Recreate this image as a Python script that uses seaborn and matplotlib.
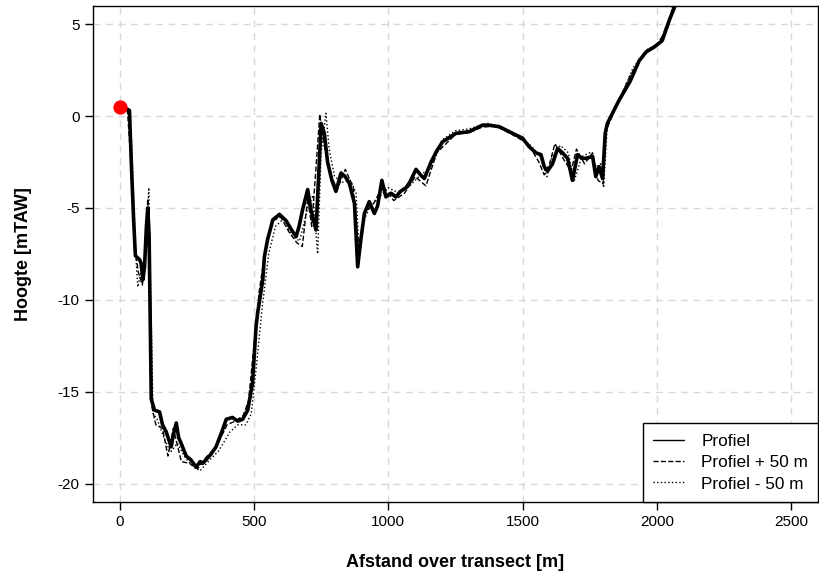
import matplotlib
matplotlib.use("Agg")
import matplotlib.pyplot as plt
import pandas as pd
import seaborn as sns
from matplotlib.lines import Line2D

# Hoogteprofiel langs het transect
x_profiel = [0, 15, 26, 37, 45, 52, 59, 66, 74, 80, 87, 93, 100, 105, 110, 118, 130, 149, 160, 174,
             192, 201, 211, 220, 229, 248, 265, 285, 300, 309, 322, 340, 359, 380, 397, 420, 440, 458,
             477, 483, 495, 508, 514, 533, 539, 551, 564, 570, 595, 620, 640, 657, 668, 681, 700, 712,
             731, 740, 750, 762, 774, 790, 805, 824, 840, 855, 874, 886, 898, 911, 929, 948, 960, 976,
             991, 1010, 1028, 1045, 1066, 1080, 1103, 1120, 1134, 1159, 1180, 1202, 1252, 1301, 1351,
             1375, 1413, 1462, 1499, 1524, 1549, 1568, 1580, 1592, 1611, 1630, 1648, 1667, 1685, 1704,
             1720, 1735, 1760, 1772, 1784, 1797, 1807, 1815, 1846, 1859, 1900, 1933, 1960, 1989, 2019,
             2045, 2067, 2090]
y_profiel = [0.5, 0.45, 0.4, 0.3, -3.0, -5.5, -7.6, -7.7, -7.8, -8.0, -8.9, -8.2, -6.0, -5.0, -6.5,
             -15.4, -16.0, -16.1, -16.8, -17.2, -18.0, -17.3, -16.7, -17.5, -17.8, -18.5, -18.7, -19.1,
             -18.8, -18.9, -18.7, -18.4, -18.0, -17.2, -16.5, -16.4, -16.6, -16.5, -16.0, -15.5, -14.5,
             -11.45, -10.7, -8.9, -7.65, -6.7, -6.0, -5.65, -5.35, -5.7, -6.2, -6.56, -6.0, -5.1, -4.0,
             -5.1, -6.2, -3.5, -0.4, -0.94, -2.5, -3.5, -4.1, -3.1, -3.3, -3.66, -4.75, -8.2, -6.7, -5.3,
             -4.66, -5.3, -4.9, -3.5, -4.4, -4.2, -4.4, -4.1, -3.9, -3.6, -2.9, -3.2, -3.4, -2.5, -1.9,
             -1.4, -0.94, -0.85, -0.49, -0.5, -0.58, -0.94, -1.2, -1.67, -2.0, -2.1, -2.75, -3.0, -2.6,
             -1.76, -2.0, -2.3, -3.5, -2.1, -2.3, -2.3, -2.2, -3.3, -2.75, -3.4, -0.94, -0.4, 0.5, 0.87,
             1.9, 3.0, 3.5, 3.75, 4.1, 5.2, 6.0, 7.0]

# Profiel + 50 m
x_plus = [5, 20, 30, 40, 55, 70, 85, 95, 105, 112, 120, 135, 160, 180, 200, 230, 260, 290, 320, 360,
          400, 430, 460, 480, 500, 520, 545, 570, 600, 630, 660, 680, 700, 715, 730, 745, 760, 780, 810,
          840, 870, 885, 895, 910, 940, 980, 1020, 1060, 1100, 1140, 1180, 1250, 1300, 1350, 1400, 1460,
          1520, 1560, 1580, 1600, 1620, 1650, 1680, 1700, 1730, 1760, 1780, 1800, 1810, 1850, 1900, 1950,
          2000, 2040, 2060, 2080]
y_plus = [0.6, 0.5, 0.2, -2.0, -7.0, -8.5, -9.2, -7.5, -4.5, -7.0, -15.8, -16.8, -17.0, -18.5, -17.0,
          -18.8, -18.9, -19.2, -18.6, -18.0, -16.8, -16.6, -16.3, -15.5, -12.5, -9.5, -7.0, -5.7, -5.5,
          -6.3, -6.9, -7.1, -4.5, -6.0, -3.0, 0.1, -1.5, -3.0, -4.0, -2.9, -3.9, -6.5, -7.0, -5.2, -4.9,
          -3.8, -4.6, -4.2, -3.3, -3.8, -2.0, -1.0, -0.9, -0.6, -0.55, -1.0, -1.5, -2.5, -3.2, -2.6, -1.5,
          -2.3, -3.0, -1.8, -2.6, -2.0, -3.5, -3.7, -0.8, 0.6, 2.2, 3.4, 3.9, 4.8, 6.0, 7.0]

# Profiel - 50 m
x_min = [8, 25, 35, 45, 60, 68, 80, 95, 109, 115, 125, 140, 165, 190, 215, 245, 275, 300, 330, 370,
         410, 440, 470, 490, 510, 530, 555, 580, 610, 640, 670, 700, 720, 737, 750, 768, 780, 800, 830,
         860, 880, 892, 905, 930, 960, 1000, 1040, 1080, 1120, 1160, 1200, 1250, 1300, 1370, 1420, 1480,
         1530, 1565, 1590, 1610, 1640, 1670, 1690, 1720, 1750, 1775, 1790, 1801, 1815, 1860, 1910, 1960,
         2010, 2050, 2075]
y_min = [0.7, 0.3, 0.0, -1.5, -7.5, -9.3, -8.5, -8.0, -3.9, -9.0, -16.2, -16.5, -17.5, -18.3, -17.8,
         -18.6, -19.1, -19.3, -18.8, -18.2, -17.2, -16.8, -16.8, -16.2, -13.5, -10.5, -7.5, -6.0, -5.6,
         -6.5, -6.8, -5.0, -4.3, -7.5, -2.0, 0.15, -1.8, -3.3, -3.6, -3.5, -4.2, -7.6, -5.8, -5.0, -4.5,
         -3.9, -4.2, -3.8, -3.2, -2.8, -1.3, -0.8, -0.7, -0.4, -0.6, -1.1, -1.6, -2.2, -3.3, -2.2, -1.6,
         -2.0, -3.6, -2.2, -2.0, -2.8, -2.6, -3.9, -0.5, 0.9, 2.6, 3.6, 4.0, 5.5, 7.0]

# startpunt van het transect
start_x = [0]
start_y = [0.5]

sns.set_style("white")
plt.rcParams['font.family'] = ['Liberation Sans', 'DejaVu Sans']
plt.rcParams['axes.unicode_minus'] = False
plt.rcParams['text.color'] = 'black'
plt.rcParams['axes.labelcolor'] = 'black'
plt.rcParams['xtick.color'] = 'black'
plt.rcParams['ytick.color'] = 'black'

fig, ax = plt.subplots(figsize=(8.2, 5.77), dpi=100)
fig.subplots_adjust(left=0.113, right=0.998, top=0.99, bottom=0.13)

ax.grid(True, color='#d9d9d9', linestyle=(0, (5, 4)), linewidth=1)
ax.set_axisbelow(True)

sns.lineplot(x=x_plus, y=y_plus, sort=False, color='black', linewidth=1, linestyle='--', ax=ax)
sns.lineplot(x=x_min, y=y_min, sort=False, color='black', linewidth=1, linestyle=':', ax=ax)
sns.lineplot(x=x_profiel, y=y_profiel, sort=False, color='black', linewidth=2.6, ax=ax)
sns.scatterplot(x=start_x, y=start_y, color='red', s=90, edgecolor='red', zorder=5, ax=ax)

ax.set_xlim(-100, 2600)
ax.set_ylim(-21, 6)
ax.set_xticks([0, 500, 1000, 1500, 2000, 2500])
ax.set_yticks([-20, -15, -10, -5, 0, 5])
ax.tick_params(direction='out', length=6, width=1, colors='black', labelsize=11,
               left=True, bottom=True)
for s in ax.spines.values():
    s.set_color('black')
    s.set_linewidth(1)

ax.set_xlabel('Afstand over transect [m]', fontsize=13, fontweight='bold', labelpad=18)
ax.set_ylabel('Hoogte [mTAW]', fontsize=13, fontweight='bold', labelpad=18)

handles = [Line2D([], [], color='black', linewidth=1, linestyle='-'),
           Line2D([], [], color='black', linewidth=1, linestyle='--'),
           Line2D([], [], color='black', linewidth=1, linestyle=':')]
leg = ax.legend(handles, ['Profiel', 'Profiel + 50 m', 'Profiel - 50 m'], loc='lower right',
                borderaxespad=0, fancybox=False, framealpha=1, edgecolor='black', fontsize=12.4,
                handlelength=1.8, labelspacing=0.3, borderpad=0.6, handletextpad=1.0,
                handleheight=0.9)
leg.get_frame().set_linewidth(1)

fig.savefig('out.png', dpi=100)
